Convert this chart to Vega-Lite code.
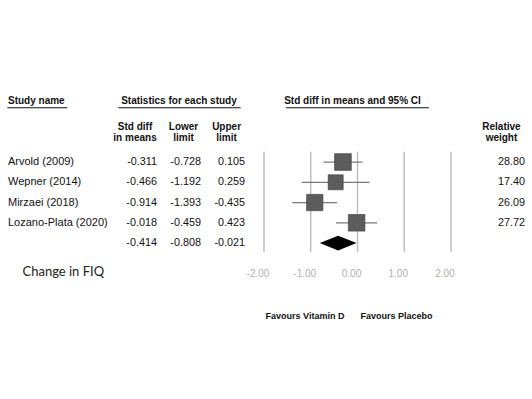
{
  "$schema": "https://vega.github.io/schema/vega-lite/v6.json",
  "width": 532,
  "height": 399,
  "autosize": {"type": "fit", "contains": "padding"},
  "padding": 0,
  "background": "white",
  "config": {
    "view": {"stroke": null},
    "text": {"font": "Liberation Sans"},
    "locale": {"number": {"decimal": ".", "thousands": ",", "grouping": [3], "currency": ["$", ""], "minus": "-"}}
  },
  "datasets": {
    "studies": [
      {"study": "Arvold (2009)", "row": 1, "smd": -0.311, "lower": -0.728, "upper": 0.105, "weight": 28.80, "type": "study"},
      {"study": "Wepner (2014)", "row": 2, "smd": -0.466, "lower": -1.192, "upper": 0.259, "weight": 17.40, "type": "study"},
      {"study": "Mirzaei (2018)", "row": 3, "smd": -0.914, "lower": -1.393, "upper": -0.435, "weight": 26.09, "type": "study"},
      {"study": "Lozano-Plata (2020)", "row": 4, "smd": -0.018, "lower": -0.459, "upper": 0.423, "weight": 27.72, "type": "study"},
      {"study": "", "row": 5, "smd": -0.414, "lower": -0.808, "upper": -0.021, "weight": null, "type": "summary"}
    ],
    "ticks": [{"tick": -2}, {"tick": -1}, {"tick": 0}, {"tick": 1}, {"tick": 2}]
  },
  "layer": [
    {
      "data": {"name": "ticks"},
      "mark": {"type": "rule", "color": "#bdbdbd", "strokeWidth": 1.5},
      "encoding": {
        "x": {"field": "tick", "type": "quantitative", "scale": {"domain": [-7.647, 3.733], "nice": false, "zero": false}, "axis": null},
        "y": {"datum": 0.49, "type": "quantitative", "scale": {"domain": [-7, 12.7], "reverse": true, "nice": false, "zero": false}, "axis": null},
        "y2": {"datum": 5.43}
      }
    },
    {
      "data": {"name": "studies"},
      "transform": [{"filter": "datum.type == 'study'"}],
      "mark": {"type": "rule", "color": "#7a7a7a", "strokeWidth": 1.2},
      "encoding": {
        "x": {"field": "lower", "type": "quantitative", "scale": {"domain": [-7.647, 3.733], "nice": false, "zero": false}, "axis": null},
        "x2": {"field": "upper"},
        "y": {"field": "row", "type": "quantitative", "scale": {"domain": [-7, 12.7], "reverse": true, "nice": false, "zero": false}, "axis": null}
      }
    },
    {
      "data": {"name": "studies"},
      "transform": [{"filter": "datum.type == 'study'"}],
      "mark": {"type": "point", "shape": "square", "filled": true, "color": "#5c5c5c", "stroke": "#3a3a3a", "strokeWidth": 0.6, "opacity": 1},
      "encoding": {
        "x": {"field": "smd", "type": "quantitative", "scale": {"domain": [-7.647, 3.733], "nice": false, "zero": false}, "axis": null},
        "y": {"field": "row", "type": "quantitative", "scale": {"domain": [-7, 12.7], "reverse": true, "nice": false, "zero": false}, "axis": null},
        "size": {"field": "weight", "type": "quantitative", "scale": {"domain": [17.4, 28.8], "range": [225, 280], "zero": false}, "legend": null}
      }
    },
    {
      "data": {"name": "studies"},
      "transform": [{"filter": "datum.type == 'summary'"}],
      "mark": {"type": "point", "shape": "M-1,0L0,-0.4L1,0L0,0.4Z", "filled": true, "color": "#000000", "opacity": 1, "size": 1354},
      "encoding": {
        "x": {"field": "smd", "type": "quantitative", "scale": {"domain": [-7.647, 3.733], "nice": false, "zero": false}, "axis": null},
        "y": {"field": "row", "type": "quantitative", "scale": {"domain": [-7, 12.7], "reverse": true, "nice": false, "zero": false}, "axis": null}
      }
    },
    {
      "data": {"name": "studies"},
      "transform": [{"filter": "datum.type == 'study'"}],
      "mark": {"type": "text", "align": "left", "baseline": "middle", "fontSize": 11, "color": "#111111"},
      "encoding": {
        "x": {"datum": -7.476, "type": "quantitative", "scale": {"domain": [-7.647, 3.733], "nice": false, "zero": false}, "axis": null},
        "y": {"field": "row", "type": "quantitative", "scale": {"domain": [-7, 12.7], "reverse": true, "nice": false, "zero": false}, "axis": null},
        "text": {"field": "study"}
      }
    },
    {
      "data": {"name": "studies"},
      "mark": {"type": "text", "align": "right", "baseline": "middle", "fontSize": 10.8, "color": "#111111"},
      "encoding": {
        "x": {"datum": -4.289, "type": "quantitative", "scale": {"domain": [-7.647, 3.733], "nice": false, "zero": false}, "axis": null},
        "y": {"field": "row", "type": "quantitative", "scale": {"domain": [-7, 12.7], "reverse": true, "nice": false, "zero": false}, "axis": null},
        "text": {"field": "smd", "type": "quantitative", "format": ".3f"}
      }
    },
    {
      "data": {"name": "studies"},
      "mark": {"type": "text", "align": "right", "baseline": "middle", "fontSize": 10.8, "color": "#111111"},
      "encoding": {
        "x": {"datum": -3.348, "type": "quantitative", "scale": {"domain": [-7.647, 3.733], "nice": false, "zero": false}, "axis": null},
        "y": {"field": "row", "type": "quantitative", "scale": {"domain": [-7, 12.7], "reverse": true, "nice": false, "zero": false}, "axis": null},
        "text": {"field": "lower", "type": "quantitative", "format": ".3f"}
      }
    },
    {
      "data": {"name": "studies"},
      "mark": {"type": "text", "align": "right", "baseline": "middle", "fontSize": 10.8, "color": "#111111"},
      "encoding": {
        "x": {"datum": -2.406, "type": "quantitative", "scale": {"domain": [-7.647, 3.733], "nice": false, "zero": false}, "axis": null},
        "y": {"field": "row", "type": "quantitative", "scale": {"domain": [-7, 12.7], "reverse": true, "nice": false, "zero": false}, "axis": null},
        "text": {"field": "upper", "type": "quantitative", "format": ".3f"}
      }
    },
    {
      "data": {"name": "studies"},
      "transform": [{"filter": "datum.type == 'study'"}],
      "mark": {"type": "text", "align": "right", "baseline": "middle", "fontSize": 10.8, "color": "#111111"},
      "encoding": {
        "x": {"datum": 3.583, "type": "quantitative", "scale": {"domain": [-7.647, 3.733], "nice": false, "zero": false}, "axis": null},
        "y": {"field": "row", "type": "quantitative", "scale": {"domain": [-7, 12.7], "reverse": true, "nice": false, "zero": false}, "axis": null},
        "text": {"field": "weight", "type": "quantitative", "format": ".2f"}
      }
    },
    {
      "data": {"name": "ticks"},
      "mark": {"type": "text", "align": "center", "baseline": "middle", "fontSize": 10, "color": "#b0b0b0", "dx": -6},
      "encoding": {
        "x": {"field": "tick", "type": "quantitative", "scale": {"domain": [-7.647, 3.733], "nice": false, "zero": false}, "axis": null},
        "y": {"datum": 6.55, "type": "quantitative", "scale": {"domain": [-7, 12.7], "reverse": true, "nice": false, "zero": false}, "axis": null},
        "text": {"field": "tick", "type": "quantitative", "format": ".2f"}
      }
    },
    {
      "data": {"values": [{}]},
      "mark": {"type": "text", "align": "left", "baseline": "middle", "fontSize": 10, "fontWeight": "bold", "color": "#111111", "text": "Study name"},
      "encoding": {
        "x": {"datum": -7.476, "type": "quantitative", "scale": {"domain": [-7.647, 3.733], "nice": false, "zero": false}, "axis": null},
        "y": {"datum": -2.01, "type": "quantitative", "scale": {"domain": [-7, 12.7], "reverse": true, "nice": false, "zero": false}, "axis": null}
      }
    },
    {
      "data": {"values": [{}]},
      "mark": {"type": "text", "align": "center", "baseline": "middle", "fontSize": 10, "fontWeight": "bold", "color": "#111111", "text": "Statistics for each study"},
      "encoding": {
        "x": {"datum": -3.818, "type": "quantitative", "scale": {"domain": [-7.647, 3.733], "nice": false, "zero": false}, "axis": null},
        "y": {"datum": -2.01, "type": "quantitative", "scale": {"domain": [-7, 12.7], "reverse": true, "nice": false, "zero": false}, "axis": null}
      }
    },
    {
      "data": {"values": [{}]},
      "mark": {"type": "text", "align": "center", "baseline": "middle", "fontSize": 10, "fontWeight": "bold", "color": "#111111", "text": "Std diff in means and 95% CI"},
      "encoding": {
        "x": {"datum": -0.107, "type": "quantitative", "scale": {"domain": [-7.647, 3.733], "nice": false, "zero": false}, "axis": null},
        "y": {"datum": -2.01, "type": "quantitative", "scale": {"domain": [-7, 12.7], "reverse": true, "nice": false, "zero": false}, "axis": null}
      }
    },
    {
      "data": {"values": [{"a": -7.491, "b": -6.208}, {"a": -5.117, "b": -2.498}, {"a": -1.529, "b": 1.529}]},
      "mark": {"type": "rule", "color": "#111111", "strokeWidth": 1},
      "encoding": {
        "x": {"field": "a", "type": "quantitative", "scale": {"domain": [-7.647, 3.733], "nice": false, "zero": false}, "axis": null},
        "x2": {"field": "b"},
        "y": {"datum": -1.68, "type": "quantitative", "scale": {"domain": [-7, 12.7], "reverse": true, "nice": false, "zero": false}, "axis": null}
      }
    },
    {
      "data": {"values": [{}]},
      "mark": {"type": "text", "align": "center", "baseline": "middle", "fontSize": 10, "fontWeight": "bold", "color": "#111111", "lineHeight": 11.6, "text": ["Std diff", "in means"]},
      "encoding": {
        "x": {"datum": -4.759, "type": "quantitative", "scale": {"domain": [-7.647, 3.733], "nice": false, "zero": false}, "axis": null},
        "y": {"datum": -0.743, "type": "quantitative", "scale": {"domain": [-7, 12.7], "reverse": true, "nice": false, "zero": false}, "axis": null}
      }
    },
    {
      "data": {"values": [{}]},
      "mark": {"type": "text", "align": "center", "baseline": "middle", "fontSize": 10, "fontWeight": "bold", "color": "#111111", "lineHeight": 11.6, "text": ["Lower", "limit"]},
      "encoding": {
        "x": {"datum": -3.722, "type": "quantitative", "scale": {"domain": [-7.647, 3.733], "nice": false, "zero": false}, "axis": null},
        "y": {"datum": -0.743, "type": "quantitative", "scale": {"domain": [-7, 12.7], "reverse": true, "nice": false, "zero": false}, "axis": null}
      }
    },
    {
      "data": {"values": [{}]},
      "mark": {"type": "text", "align": "center", "baseline": "middle", "fontSize": 10, "fontWeight": "bold", "color": "#111111", "lineHeight": 11.6, "text": ["Upper", "limit"]},
      "encoding": {
        "x": {"datum": -2.8, "type": "quantitative", "scale": {"domain": [-7.647, 3.733], "nice": false, "zero": false}, "axis": null},
        "y": {"datum": -0.743, "type": "quantitative", "scale": {"domain": [-7, 12.7], "reverse": true, "nice": false, "zero": false}, "axis": null}
      }
    },
    {
      "data": {"values": [{}]},
      "mark": {"type": "text", "align": "center", "baseline": "middle", "fontSize": 10, "fontWeight": "bold", "color": "#111111", "lineHeight": 11.6, "text": ["Relative", "weight"]},
      "encoding": {
        "x": {"datum": 3.08, "type": "quantitative", "scale": {"domain": [-7.647, 3.733], "nice": false, "zero": false}, "axis": null},
        "y": {"datum": -0.743, "type": "quantitative", "scale": {"domain": [-7, 12.7], "reverse": true, "nice": false, "zero": false}, "axis": null}
      }
    },
    {
      "data": {"values": [{}]},
      "mark": {"type": "text", "align": "left", "baseline": "middle", "fontSize": 13, "font": "Lato", "color": "#222222", "text": "Change in FIQ"},
      "encoding": {
        "x": {"datum": -7.166, "type": "quantitative", "scale": {"domain": [-7.647, 3.733], "nice": false, "zero": false}, "axis": null},
        "y": {"datum": 6.42, "type": "quantitative", "scale": {"domain": [-7, 12.7], "reverse": true, "nice": false, "zero": false}, "axis": null}
      }
    },
    {
      "data": {"values": [{}]},
      "mark": {"type": "text", "align": "center", "baseline": "middle", "fontSize": 9, "fontWeight": "bold", "color": "#111111", "text": "Favours Vitamin D"},
      "encoding": {
        "x": {"datum": -1.123, "type": "quantitative", "scale": {"domain": [-7.647, 3.733], "nice": false, "zero": false}, "axis": null},
        "y": {"datum": 8.59, "type": "quantitative", "scale": {"domain": [-7, 12.7], "reverse": true, "nice": false, "zero": false}, "axis": null}
      }
    },
    {
      "data": {"values": [{}]},
      "mark": {"type": "text", "align": "center", "baseline": "middle", "fontSize": 9, "fontWeight": "bold", "color": "#111111", "text": "Favours Placebo"},
      "encoding": {
        "x": {"datum": 0.834, "type": "quantitative", "scale": {"domain": [-7.647, 3.733], "nice": false, "zero": false}, "axis": null},
        "y": {"datum": 8.59, "type": "quantitative", "scale": {"domain": [-7, 12.7], "reverse": true, "nice": false, "zero": false}, "axis": null}
      }
    }
  ]
}
